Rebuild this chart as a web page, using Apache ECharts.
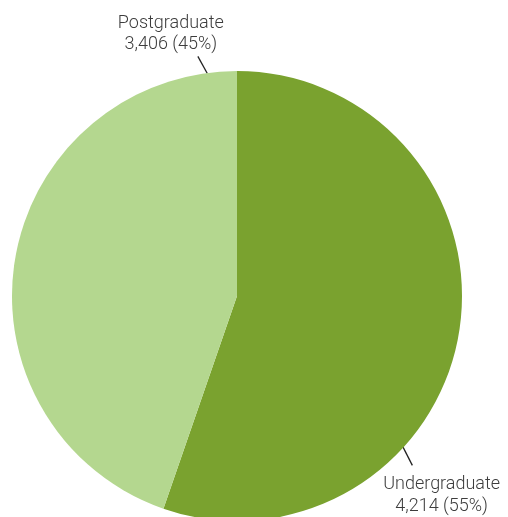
<!DOCTYPE html>
<html>
<head>
<meta charset="utf-8">
<script src="https://cdn.jsdelivr.net/npm/echarts@6/dist/echarts.min.js"></script>
<style>
  html, body { margin: 0; padding: 0; background: #ffffff; }
  #chart { width: 508px; height: 517px; }
</style>
</head>
<body>
<div id="chart"></div>
<script>
// Student enrolment by level of study
const categories = ['Undergraduate', 'Postgraduate'];
const values = [4214, 3406];
const colors = ['#7aa22f', '#b4d78f'];

// Leader lines: where each leaves the rim and which way it points
// (degrees clockwise from 12 o'clock), plus its length in px
const leaderAngles = [132.3, -7.6];
const leaderDirs = [153, -29];
const leaderLen = [20.5, 19.5];

const CX = 237, CY = 296, R = 225;
const total = values.reduce((a, b) => a + b, 0);

function polar(angleDeg, r, ox, oy) {
  const a = angleDeg * Math.PI / 180;
  return [ox + r * Math.sin(a), oy - r * Math.cos(a)];
}

const chart = echarts.init(document.getElementById('chart'), null, { renderer: 'canvas' });

chart.setOption({
  animation: false,
  backgroundColor: '#ffffff',
  series: [{
    type: 'pie',
    center: [CX, CY],
    radius: R,
    startAngle: 90,
    clockwise: true,
    silent: true,
    avoidLabelOverlap: false,
    data: categories.map((name, i) => ({
      name: name,
      value: values[i],
      itemStyle: { color: colors[i] }
    })),
    itemStyle: { borderWidth: 0 },
    label: {
      show: true,
      position: 'outside',
      overflow: 'none',
      formatter: function (p) {
        const pct = Math.round(p.value / total * 100);
        return p.name + '\n' + p.value.toLocaleString('en-US') + ' (' + pct + '%)';
      },
      color: '#3d3d3d',
      fontFamily: 'Roboto, Liberation Sans, Arial, sans-serif',
      fontWeight: 300,
      fontSize: 18,
      lineHeight: 21.5,
      align: 'center'
    },
    labelLine: {
      show: true,
      lineStyle: { color: '#222222', width: 1.3 }
    },
    labelLayout: function (params) {
      const i = params.dataIndex;
      const p0 = polar(leaderAngles[i], R - 0.5, CX, CY);
      const p1 = polar(leaderDirs[i], leaderLen[i], p0[0], p0[1]);
      const below = i === 0;
      return {
        x: p1[0] + (below ? 29.3 : -27),
        y: p1[1] + (below ? 8.5 : -1),
        align: 'center',
        verticalAlign: below ? 'top' : 'bottom',
        hideOverlap: false,
        labelLinePoints: [p0, p1, p1]
      };
    }
  }]
});
</script>
</body>
</html>
